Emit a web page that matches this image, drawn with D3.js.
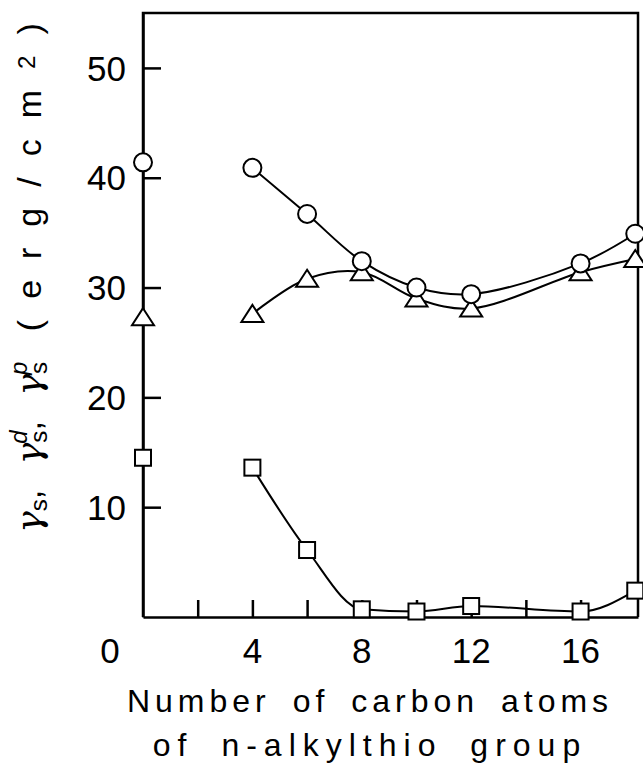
<!DOCTYPE html>
<html>
<head>
<meta charset="utf-8">
<script src="https://cdn.jsdelivr.net/npm/d3@7"></script>
<style>
  body { margin: 0; background: #fff; }
  svg text { font-family: "Liberation Sans", Arial, sans-serif; fill: #000; }
</style>
</head>
<body>
<svg id="chart" width="643" height="765"></svg>
<script>
// carbon numbers (0 = left axis reference point)
var carbons = [0, 4, 6, 8, 10, 12, 16, 18];
// gamma_s (circles), gamma_s^d (triangles), gamma_s^p (squares)
var gammaS = [41.4, 40.9, 36.7, 32.4, 30.0, 29.4, 32.2, 34.9];
var gammaD = [27.3, 27.6, 30.8, 31.4, 29.0, 28.1, 31.4, 32.6];
var gammaP = [14.5, 13.6, 6.1, 0.7, 0.5, 1.0, 0.5, 2.4];
var xTicks = [2, 4, 6, 8, 10, 12, 14, 16];
var xTickLabels = [4, 8, 12, 16];
var yTicks = [10, 20, 30, 40, 50];

var svg = d3.select("#chart");
var plotL = 143, plotR = 638, plotT = 13, plotB = 617;

var x = d3.scaleLinear().domain([0, 18.1]).range([plotL, plotR]);
var y = d3.scaleLinear().domain([0, 55]).range([plotB, plotT]);

function rows(vals) {
    return carbons.map(function (c, i) { return {x: c, y: vals[i]}; });
}

// frame: left + bottom axes via d3, top and right border lines
svg.append("g")
    .attr("transform", "translate(0," + plotB + ")")
    .call(d3.axisBottom(x).tickValues(xTicks).tickSizeInner(-17).tickSizeOuter(0).tickFormat(""));
svg.append("g")
    .attr("transform", "translate(" + plotL + ",0)")
    .call(d3.axisLeft(y).tickValues(yTicks).tickSizeInner(-18).tickSizeOuter(0).tickFormat(""));
svg.selectAll(".domain, .tick line").attr("stroke", "#000").attr("stroke-width", 2.5);

svg.append("path")
    .attr("d", "M" + x(0) + "," + y(0) + "V" + y(55) + "H" + x(18.1) + "V" + y(0))
    .attr("fill", "none").attr("stroke", "#000").attr("stroke-width", 2.5);

// tick labels
svg.selectAll(".ylab").data(yTicks).enter().append("text")
    .attr("x", 126).attr("y", function (d) { return y(d); })
    .attr("dy", "0.36em").attr("text-anchor", "end")
    .style("font-size", "35px").text(function (d) { return d; });
svg.selectAll(".xlab").data(xTickLabels).enter().append("text")
    .attr("x", function (d) { return x(d); }).attr("y", 663)
    .attr("text-anchor", "middle")
    .style("font-size", "35px").text(function (d) { return d; });
svg.append("text").attr("x", 110).attr("y", 663).attr("text-anchor", "middle")
    .style("font-size", "35px").text("0");

// axis titles
svg.append("text").attr("x", 370).attr("y", 712).attr("text-anchor", "middle")
    .style("font-size", "32px").style("letter-spacing", "5px").style("word-spacing", "8px")
    .text("Number of carbon atoms");
svg.append("text").attr("x", 370).attr("y", 756).attr("text-anchor", "middle")
    .style("font-size", "32px").style("letter-spacing", "7px").style("word-spacing", "12px")
    .text("of n-alkylthio group");

// y title: γs, γs^d, γs^p (erg/cm2)
var yt = svg.append("text")
    .attr("transform", "translate(41,278) rotate(-90)")
    .attr("text-anchor", "middle")
    .style("font-size", "34px");
var parts = [
    {t: "γ", g: true},
    {t: "s", small: true, dy: 6},
    {t: ",   ", dy: -6, ls: 8},
    {t: "γ", g: true},
    {t: "s", small: true, dy: 6},
    {t: "d", small: true, it: true, dx: -13, dy: -20},
    {t: ",   ", dy: 14, ls: 8},
    {t: "γ", g: true},
    {t: "s", small: true, dy: 6},
    {t: "p", small: true, it: true, dx: -13, dy: -20},
    {t: "  (erg/cm", dy: 14, ls: 21},
    {t: "2", small: true, dy: -6, ls: 21},
    {t: ")", dy: 6}
];
parts.forEach(function (p) {
    var ts = yt.append("tspan").text(p.t);
    if (p.dx) ts.attr("dx", p.dx);
    if (p.dy) ts.attr("dy", p.dy);
    if (p.ls) ts.style("letter-spacing", p.ls + "px");
    if (p.small) ts.style("font-size", "24px");
    if (p.it) ts.style("font-style", "italic");
    if (p.g) ts.style("font-style", "italic").style("font-family", "DejaVu Serif").style("font-size", "36px");
});

// curves (from carbon 4 on)
var line = d3.line().x(function (d) { return x(d.x); }).y(function (d) { return y(d.y); })
    .curve(d3.curveCatmullRom.alpha(0.5));
var lineP = d3.line().x(function (d) { return x(d.x); }).y(function (d) { return y(d.y); })
    .curve(d3.curveMonotoneX);

[[gammaS, line], [gammaD, line], [gammaP, lineP]].forEach(function (s) {
    svg.append("path")
        .attr("d", s[1](rows(s[0]).slice(1)))
        .attr("fill", "none").attr("stroke", "#000").attr("stroke-width", 2);
});

// markers
svg.selectAll(".tri").data(rows(gammaD)).enter().append("path")
    .attr("transform", function (d) { return "translate(" + x(d.x) + "," + y(d.y) + ")"; })
    .attr("d", "M0,-9L11,8L-11,8Z")
    .attr("fill", "#fff").attr("stroke", "#000").attr("stroke-width", 2);
svg.selectAll(".circ").data(rows(gammaS)).enter().append("circle")
    .attr("cx", function (d) { return x(d.x); }).attr("cy", function (d) { return y(d.y); })
    .attr("r", 9)
    .attr("fill", "#fff").attr("stroke", "#000").attr("stroke-width", 2);
svg.selectAll(".sq").data(rows(gammaP)).enter().append("rect")
    .attr("x", function (d) { return x(d.x) - 8; }).attr("y", function (d) { return y(d.y) - 8; })
    .attr("width", 16).attr("height", 16)
    .attr("fill", "#fff").attr("stroke", "#000").attr("stroke-width", 2);
</script>
</body>
</html>
